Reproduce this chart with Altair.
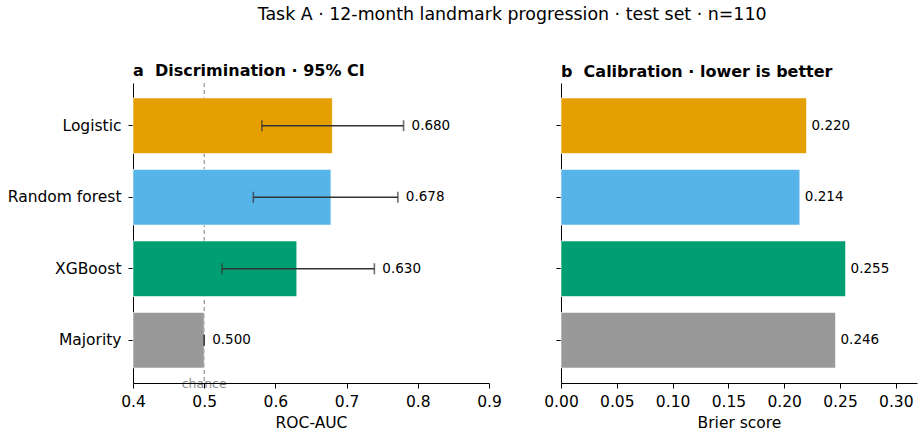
import altair as alt
import pandas as pd

# ---- data ----
models = ["Logistic", "Random forest", "XGBoost", "Majority"]
auc = [0.680, 0.678, 0.630, 0.500]
auc_lo = [0.581, 0.569, 0.525, 0.500]
auc_hi = [0.780, 0.772, 0.739, 0.500]
brier = [0.220, 0.214, 0.255, 0.246]
colors = ["#E69F00", "#56B4E9", "#009E73", "#999999"]
auc_ticks = [0.4, 0.5, 0.6, 0.7, 0.8, 0.9]
brier_ticks = [0.0, 0.05, 0.10, 0.15, 0.20, 0.25, 0.30]
chance_level = 0.5

df = pd.DataFrame({"model": models, "auc": auc, "lo": auc_lo, "hi": auc_hi, "brier": brier})
chance_df = pd.DataFrame({"chance": [chance_level]})

W, H = 356, 300
FONT = "DejaVu Sans"
LBL = 15.5


def y_enc(labels=True):
    return alt.Y(
        "model:N",
        sort=models,
        scale=alt.Scale(paddingInner=0.222, paddingOuter=0.209),
        axis=alt.Axis(
            title=None, labels=labels, labelFontSize=LBL, tickSize=5, labelPadding=7,
            domainColor="black", tickColor="black", labelColor="black",
            domainWidth=1, tickWidth=1,
        ),
    )


def x_auc(field):
    return alt.X(
        field,
        scale=alt.Scale(domain=[0.4, 0.9], zero=False, nice=False),
        axis=alt.Axis(
            values=auc_ticks, format=".1f", title="ROC-AUC", grid=False,
            labelFontSize=LBL, titleFontSize=LBL, titleFontWeight="normal",
            tickSize=5, labelPadding=6, titlePadding=6, zindex=1,
            domainColor="black", tickColor="black", labelColor="black", titleColor="black",
            labelFlush=False,
        ),
    )


def x_brier(field):
    return alt.X(
        field,
        scale=alt.Scale(domain=[0, 0.319], nice=False),
        axis=alt.Axis(
            values=brier_ticks, format=".2f", title="Brier score", grid=False,
            labelFontSize=LBL, titleFontSize=LBL, titleFontWeight="normal",
            tickSize=5, labelPadding=6, titlePadding=6,
            domainColor="black", tickColor="black", labelColor="black", titleColor="black",
            labelFlush=False,
        ),
    )


color_enc = alt.Color("model:N", scale=alt.Scale(domain=models, range=colors), legend=None)

base = alt.Chart(df)

chance_rule = alt.Chart(chance_df).mark_rule(
    color="#888888", strokeDash=[4, 3], strokeWidth=1.1
).encode(x=x_auc("chance:Q"))

bars_a = base.mark_bar(stroke="white", strokeWidth=0.6).encode(
    y=y_enc(), x=x_auc("auc:Q"), x2=alt.datum(0.4), color=color_enc
)

err = base.mark_rule(color="#333333", strokeWidth=1.6).encode(
    y=y_enc(), x=x_auc("lo:Q"), x2="hi:Q"
)

caps = base.transform_fold(["lo", "hi"], as_=["end", "val"]).mark_tick(
    color="#333333", size=11, thickness=1.6
).encode(y=y_enc(), x=x_auc("val:Q"))

vals_a = base.mark_text(align="left", baseline="middle", dx=8, fontSize=13.5, color="black").encode(
    y=y_enc(), x=x_auc("hi:Q"), text=alt.Text("auc:Q", format=".3f")
)

chance_txt = alt.Chart(chance_df).mark_text(
    text="chance", baseline="alphabetic", align="center", fontSize=12.5, color="#8a8a8a"
).encode(x=x_auc("chance:Q"), y=alt.value(H + 5))

left = alt.layer(chance_rule, bars_a, err, caps, vals_a, chance_txt).properties(
    width=W, height=H,
    title=alt.TitleParams("a\u00a0\u00a0Discrimination · 95% CI", anchor="start", frame="group",
                          fontSize=16, fontWeight="bold", offset=3, color="black"),
)

bars_b = base.mark_bar(stroke="white", strokeWidth=0.6).encode(
    y=y_enc(False), x=x_brier("brier:Q"), color=color_enc
)
vals_b = base.mark_text(align="left", baseline="middle", dx=5, fontSize=13.5, color="black").encode(
    y=y_enc(False), x=x_brier("brier:Q"), text=alt.Text("brier:Q", format=".3f")
)

right = alt.layer(bars_b, vals_b).properties(
    width=W, height=H,
    title=alt.TitleParams("b\u00a0\u00a0Calibration · lower is better", anchor="start", frame="group",
                          fontSize=16, fontWeight="bold", offset=3, color="black"),
)

chart = alt.hconcat(left, right, spacing=72, bounds="flush").properties(
    title=alt.TitleParams(
        "Task A · 12-month landmark progression · test set · n=110",
        fontSize=17.4, fontWeight="normal", anchor="middle", dx=50, offset=40, color="black",
    ),
    padding={"left": 7, "right": 3, "top": 6, "bottom": 2},
).configure(font=FONT).configure_view(stroke=None)

chart.save("out.html", embed_options={"renderer": "svg", "actions": False})
